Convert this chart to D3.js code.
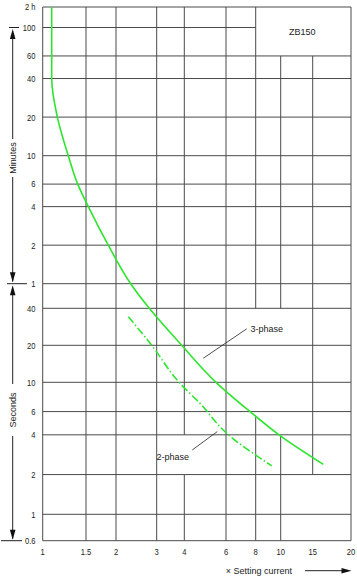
<!DOCTYPE html>
<html><head><meta charset="utf-8">
<script src="https://cdn.jsdelivr.net/npm/d3@7"></script>
<style>
html,body{margin:0;padding:0;background:#fff;}
text{font-family:"Liberation Sans",Arial,sans-serif;fill:#222;}
</style></head>
<body><svg id="c" width="357" height="580"></svg>
<script>
// ---- data ----
const xTicks = [1, 1.5, 2, 3, 4, 6, 8, 10, 15, 20];
const xTickLabels = ["1", "1.5", "2", "3", "4", "6", "8", "10", "15", "20"];
const minuteTicks = [1, 2, 4, 6, 10, 20, 40, 60, 100];      // minutes
const secondTicks = [0.6, 1, 2, 4, 6, 10, 20, 40];          // seconds
const topLabel = "2 h";
const phase3Multiple = [1.088, 1.088, 1.147, 1.271, 1.388, 1.534, 1.857, 2.315, 2.787, 3.894, 5.445, 7.57, 9.85, 16.25];
const phase3Seconds  = [7200, 2400, 1200, 600, 360, 240, 120, 60, 40, 20, 10, 6, 4, 2.39];
const phase2Multiple = [2.261, 2.831, 3.824, 4.66, 6.04, 9.23];
const phase2Seconds  = [34.2, 20.4, 9.83, 6.93, 4.11, 2.33];
const seriesNames = ["3-phase", "2-phase"];
const deviceName = "ZB150";
const xTitle = "\u00d7 Setting current";

// ---- scales (printed, slightly irregular log grid) ----
const x = d3.scaleLog().domain(xTicks).range([42.7, 86, 116, 156.7, 184.3, 226, 255.7, 280.7, 312.7, 351]);
const y = d3.scaleLog().domain([0.6, 1, 10, 40, 60, 600, 6000, 7200]).range([540.7, 514.3, 382.3, 308.3, 283.7, 155.7, 27.5, 7]);

const svg = d3.select("#c");
const gridColor = "#4a4a4a";
const green = "#2ee52e";
const NUM_FS = 9.5, NUM_SX = 0.8, WORD_FS = 9;

function numText(parent, xx, yy, txt, anchor) {
  parent.append("text").attr("transform", `translate(${xx},${yy}) scale(${NUM_SX},1)`)
    .attr("text-anchor", anchor).attr("font-size", NUM_FS).text(txt);
}
// 3-phase curve time at a given multiple (log-log interpolation of the data)
function phase3At(m) {
  for (let i = 1; i < phase3Multiple.length; i++) {
    const a = phase3Multiple[i - 1], b = phase3Multiple[i];
    if (m >= a && m <= b && b > a) {
      const f = Math.log(m / a) / Math.log(b / a);
      return phase3Seconds[i - 1] * Math.pow(phase3Seconds[i] / phase3Seconds[i - 1], f);
    }
  }
  return null;
}

// ---- grid ----
const g = svg.append("g");
const hVals = minuteTicks.map(m => m * 60).concat(secondTicks).concat([7200]);
hVals.forEach(v => {
  const x2 = (v === 6000) ? x(8) : x(20);
  g.append("line").attr("x1", x(1)).attr("x2", x2).attr("y1", y(v)).attr("y2", y(v))
    .attr("stroke", gridColor).attr("stroke-width", 1);
});
function vseg(t, a, b) {
  g.append("line").attr("x1", x(t)).attr("x2", x(t)).attr("y1", a).attr("y2", b)
    .attr("stroke", gridColor).attr("stroke-width", 1);
}
xTicks.forEach(t => {
  let y1 = y(7200), y2 = y(0.6);
  if (t === 10 || t === 15) y1 = y(3600);
  if (t === 15) y2 = y(2);
  if (t === 8 || t === 10) {
    // gap left for the "3-phase" label, from the 40 s line down to the curve
    vseg(t, y1, y(40));
    vseg(t, y(phase3At(t)), y2);
  } else if (t === 4) {
    // gap left for the "2-phase" label
    vseg(t, y1, y(4));
    vseg(t, y(2), y2);
  } else {
    vseg(t, y1, y2);
  }
});

// ZB150 label
svg.append("text").attr("x", (x(8) + x(20)) / 2 - 1).attr("y", (y(7200) + y(3600)) / 2 + 3.5)
  .attr("text-anchor", "middle").attr("font-size", WORD_FS).text(deviceName);

// ---- curves ----
const line = d3.line().x(d => x(d[0])).y(d => y(d[1])).curve(d3.curveMonotoneY);
const p3 = phase3Multiple.map((m, i) => [m, phase3Seconds[i]]);
const p2 = phase2Multiple.map((m, i) => [m, phase2Seconds[i]]);
svg.append("path").attr("d", line(p3)).attr("fill", "none").attr("stroke", green).attr("stroke-width", 1.6);
svg.append("path").attr("d", line(p2)).attr("fill", "none").attr("stroke", green).attr("stroke-width", 1.6)
  .attr("stroke-dasharray", "8,2.5,1.5,2.5");

// ---- annotations ----
const ann = svg.append("g");
ann.append("line").attr("x1", x(4.81)).attr("y1", y(15.7)).attr("x2", x(7.33)).attr("y2", y(27.2))
  .attr("stroke", "#222").attr("stroke-width", 0.8);
ann.append("text").attr("x", x(7.6)).attr("y", y(27.2) + 3.2).attr("font-size", WORD_FS).text(seriesNames[0]);
ann.append("line").attr("x1", x(4.32)).attr("y1", y(3.07)).attr("x2", x(5.51)).attr("y2", y(4.23))
  .attr("stroke", "#222").attr("stroke-width", 0.8);
ann.append("text").attr("x", x(4.19)).attr("y", y(2.73) + 3.2).attr("text-anchor", "end").attr("font-size", WORD_FS).text(seriesNames[1]);

// ---- y labels ----
const yl = svg.append("g");
numText(yl, 35.5, y(7200) + 3.4, topLabel, "end");
minuteTicks.forEach(m => numText(yl, 35.5, y(m * 60) + 3.4, m, "end"));
secondTicks.filter(s => s < 60).forEach(s => numText(yl, 35.5, y(s) + 3.4, s, "end"));

// ---- x labels ----
const xl = svg.append("g");
xTicks.forEach((t, i) => numText(xl, x(t), 555, xTickLabels[i], "middle"));
xl.append("text").attr("x", 292).attr("y", 573.8).attr("text-anchor", "end").attr("font-size", WORD_FS).text(xTitle);
xl.append("line").attr("x1", 305).attr("x2", 343).attr("y1", 570.7).attr("y2", 570.7).attr("stroke", "#222").attr("stroke-width", 1);
xl.append("path").attr("d", "M351.5,570.7 L341.5,568 L341.5,573.4 Z").attr("fill", "#111");

// ---- left range arrows ----
const ax = 12.7;
const la = svg.append("g").attr("stroke", "#222").attr("stroke-width", 1);
function vline(a, b) { la.append("line").attr("x1", ax).attr("x2", ax).attr("y1", a).attr("y2", b); }
function hline(yy, a, b) { la.append("line").attr("x1", a).attr("x2", b).attr("y1", yy).attr("y2", yy); }
function head(tip, dir) {
  svg.append("path").attr("d", `M${ax},${tip} L${ax - 2.8},${tip + dir * 10} L${ax + 2.8},${tip + dir * 10} Z`).attr("fill", "#111");
}
const yMinTop = y(6000), yMid = y(60), yBot = y(0.6);
hline(yMinTop, 9, 19);
head(yMinTop + 1.5, 1);
vline(yMinTop + 10, 139);
vline(177, yMid - 2);
head(yMid - 1.5, -1);
hline(yMid, 7, 27);
head(yMid + 1.5, 1);
vline(yMid + 10, 384);
vline(436, yBot - 2);
head(yBot - 1, -1);
hline(yBot, 1, 22);
svg.append("text").attr("transform", `translate(${ax + 3.2},${(139 + 177) / 2}) rotate(-90)`)
  .attr("text-anchor", "middle").attr("font-size", WORD_FS).text("Minutes");
svg.append("text").attr("transform", `translate(${ax + 3.2},${(384 + 436) / 2}) rotate(-90)`)
  .attr("text-anchor", "middle").attr("font-size", WORD_FS).text("Seconds");
</script></body></html>
